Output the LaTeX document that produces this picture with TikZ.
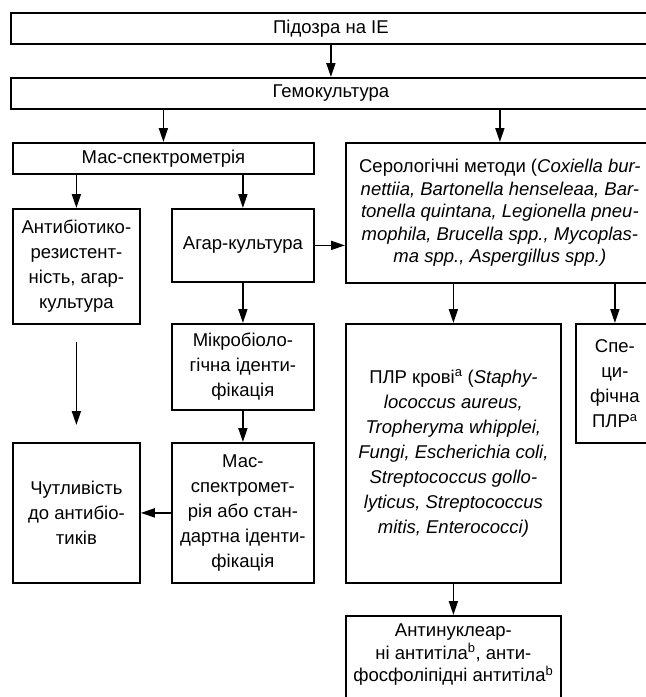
\documentclass[tikz,border=0pt]{standalone}
\usepackage{fontspec}
\setmainfont{Liberation Sans}
\usetikzlibrary{arrows.meta}

\begin{document}
\begin{tikzpicture}[x=1pt,y=-1pt,
			box/.style={rectangle, draw=black, line width=1.8pt, inner sep=0pt, anchor=north west, align=center,
				font=\fontsize{18.5}{25}\selectfont},
			tight/.style={font=\fontsize{18.5}{22.5}\selectfont},
			arr/.style={-{Triangle[length=14pt,width=9pt]}, line width=1.8pt}
		]
		\clip (0,0) rectangle (646,697);
		
		\node[box, minimum width=640pt, minimum height=31pt] (q_0) at (10,12) {Підозра на IE};
		\node[box, minimum width=640pt, minimum height=31pt] (q_1) at (10,77) {Гемокультура};
		
		\node[box, minimum width=301pt, minimum height=31pt] (q_ms) at (12,142) {Мас-спектрометрія};
		\node[box, tight, minimum width=308pt, minimum height=140pt] (q_ser) at (345,142)
			{Серологічні методи (\textit{Coxiella bur-}\\ \textit{nettiia, Bartonella henseleaa, Bar-}\\
			 \textit{tonella quintana, Legionella pneu-}\\ \textit{mophila, Brucella spp., Mycoplas-}\\
			 \textit{ma spp., Aspergillus spp.)}};
		
		\node[box, minimum width=127pt, minimum height=115pt] (q_res) at (12,208)
			{Антибіотико-\\резистент-\\ність, агар-\\культура};
		\node[box, minimum width=142pt, minimum height=73pt] (q_agar) at (171,208) {Агар-культура};
		\node[box, minimum width=142pt, minimum height=86pt] (q_mic) at (171,323)
			{Мікробіоло-\\гічна іденти-\\фікація};
		\node[box, minimum width=142pt, minimum height=140pt] (q_id) at (171,442)
			{Мас-\\спектромет-\\рія або стан-\\дартна іденти-\\фікація};
		\node[box, minimum width=127pt, minimum height=140pt] (q_sens) at (12,442)
			{Чутливість\\до антибіо-\\тиків};
		
		\node[box, minimum width=215pt, minimum height=259pt] (q_pcr) at (345,323)
			{ПЛР крові\textsuperscript{a} (\textit{Staphy-}\\ \textit{lococcus aureus,}\\ \textit{Tropheryma whipplei,}\\
			 \textit{Fungi, Escherichia coli,}\\ \textit{Streptococcus gollo-}\\ \textit{lyticus, Streptococcus}\\
			 \textit{mitis, Enterococci)}};
		\node[box, minimum width=78pt, minimum height=119pt] (q_spec) at (575,323)
			{Спе-\\ци-\\фічна\\ПЛР\textsuperscript{a}};
		% box runs past the bottom edge, so an empty last line lifts the text
		\node[box, tight, minimum width=215pt, minimum height=96pt] (q_ab) at (345,615)
			{Антинуклеар-\\ні антитіла\textsuperscript{b}, анти-\\фосфоліпідні антитіла\textsuperscript{b}\\ \mbox{}};
		
		\draw[arr] (q_0.south) -- (q_1.north);
		\draw[arr] (q_ms.north |- q_1.south) -- (q_ms.north);
		\draw[arr] (q_ser.north |- q_1.south) -- (q_ser.north);
		
		\draw[arr] (q_res.north |- q_ms.south) -- (q_res.north);
		\draw[arr] (q_agar.north |- q_ms.south) -- (q_agar.north);
		\draw[arr] (q_agar.east) -- (q_agar.east -| q_ser.west);
		
		\draw[arr] (q_agar.south) -- (q_mic.north);
		\draw[arr] (q_mic.south) -- (q_id.north);
		\draw[arr] (q_id.west) -- (q_id.west -| q_sens.east);
		\draw[arr, shorten <=17pt, shorten >=17pt] (q_res.south) -- (q_sens.north);
		
		\draw[arr] (q_pcr.north |- q_ser.south) -- (q_pcr.north);
		\draw[arr] (q_spec.north |- q_ser.south) -- (q_spec.north);
		\draw[arr] (q_pcr.south) -- (q_ab.north);
	\end{tikzpicture}
\end{document}
